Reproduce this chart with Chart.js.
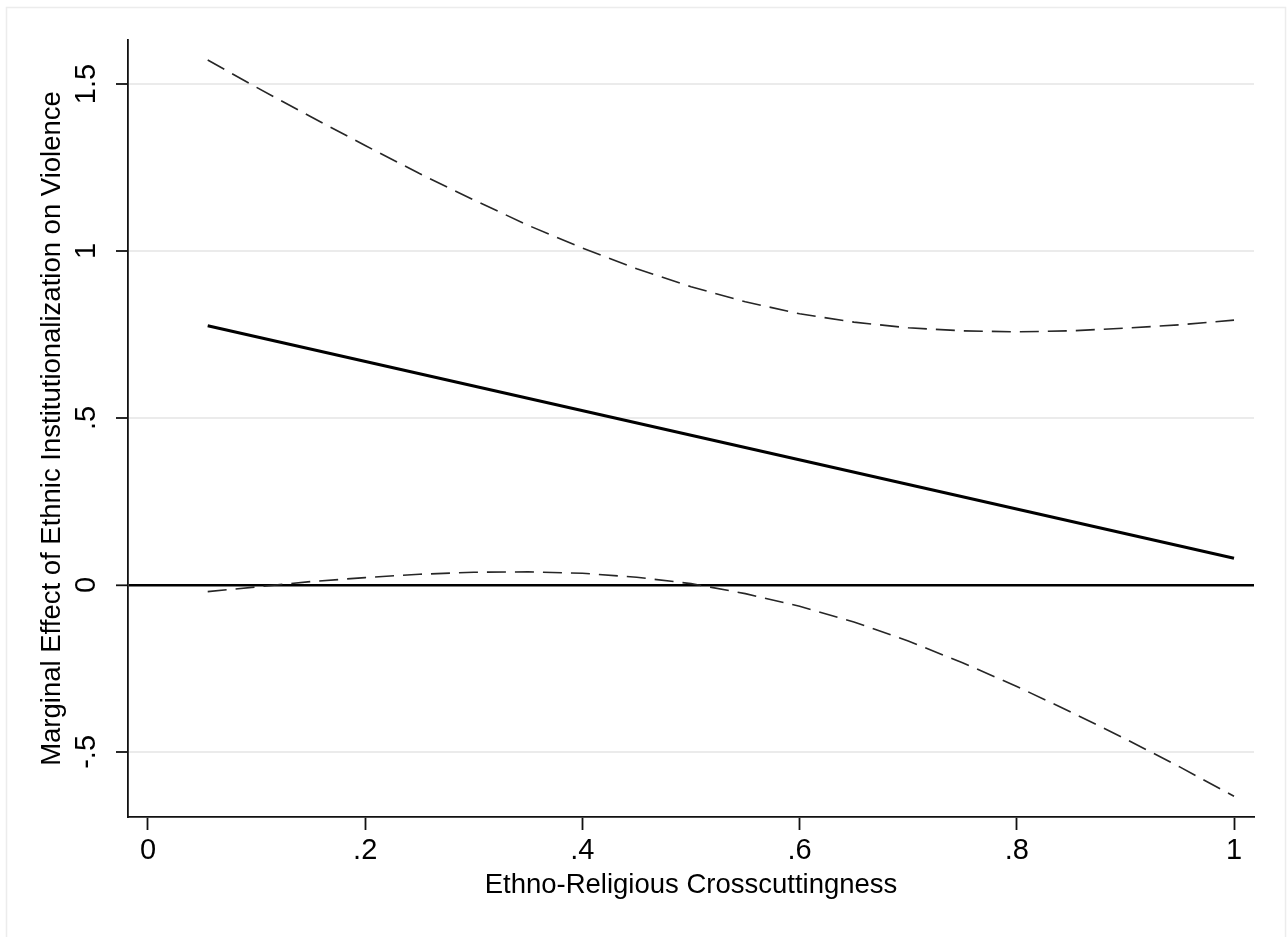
<!DOCTYPE html>
<html>
<head>
<meta charset="utf-8">
<title>Marginal Effect of Ethnic Institutionalization on Violence</title>
<script src="https://cdn.jsdelivr.net/npm/chart.js@4.4.0/dist/chart.umd.min.js"></script>
<style>
  html, body { margin: 0; padding: 0; background: #fff; }
  #chart { display: block; }
</style>
</head>
<body>
<canvas id="chart" width="1287" height="937"></canvas>
<script>
// values
const crosscut = [0.055, 0.1, 0.15, 0.2, 0.25, 0.3, 0.35, 0.4, 0.45, 0.5,
                  0.55, 0.6, 0.65, 0.7, 0.75, 0.8, 0.85, 0.9, 0.95, 1.0];
const upperBound = [1.572, 1.490, 1.402, 1.316, 1.232, 1.153, 1.077, 1.009, 0.947, 0.893,
                    0.848, 0.812, 0.787, 0.770, 0.761, 0.758, 0.761, 0.769, 0.779, 0.793];
const lowerBound = [-0.020, -0.006, 0.010, 0.022, 0.032, 0.038, 0.039, 0.035, 0.023, 0.004,
                    -0.026, -0.064, -0.111, -0.168, -0.233, -0.304, -0.381, -0.461, -0.545, -0.633];
const effectX = [0.055, 1.0];
const effectY = [0.776, 0.080];

const xTickValues = [0, 0.2, 0.4, 0.6, 0.8, 1];
const yTickValues = [-0.5, 0, 0.5, 1, 1.5];

const FONT = "'Liberation Sans', Arial, Helvetica, sans-serif";

// Stata style labels: drop the leading zero
function stataLabel(v) {
  const s = String(Math.round(v * 100) / 100);
  return s.replace(/^0\./, '.').replace(/^-0\./, '-.');
}

const toPoints = (xs, ys) => xs.map((x, i) => ({ x: x, y: ys[i] }));

// light outer frame around the whole graph
const outerFrame = {
  id: 'outerFrame',
  beforeDraw(chart) {
    const ctx = chart.ctx;
    ctx.save();
    ctx.fillStyle = '#fff';
    ctx.fillRect(0, 0, chart.width, chart.height);
    ctx.strokeStyle = '#ececec';
    ctx.lineWidth = 1.5;
    ctx.strokeRect(6.5, 7.5, 1279, 980);
    ctx.restore();
  }
};

new Chart(document.getElementById('chart'), {
  type: 'line',
  data: {
    datasets: [
      {
        label: 'Upper bound',
        data: toPoints(crosscut, upperBound),
        borderColor: '#262626',
        borderWidth: 1.6,
        borderDash: [19, 9],
        pointRadius: 0,
        fill: false
      },
      {
        label: 'Lower bound',
        data: toPoints(crosscut, lowerBound),
        borderColor: '#262626',
        borderWidth: 1.6,
        borderDash: [19, 9],
        pointRadius: 0,
        fill: false
      },
      {
        label: 'Marginal effect',
        data: toPoints(effectX, effectY),
        borderColor: '#000',
        borderWidth: 3,
        pointRadius: 0,
        fill: false
      }
    ]
  },
  options: {
    responsive: false,
    animation: false,
    layout: {
      padding: { top: 40, right: 33, left: 0, bottom: 0 }
    },
    scales: {
      x: {
        type: 'linear',
        min: -0.0184,
        max: 1.0184,
        afterBuildTicks: scale => { scale.ticks = xTickValues.map(v => ({ value: v })); },
        afterFit: scale => { scale.height = 120; },
        border: { display: true, color: '#111', width: 1.8 },
        grid: {
          drawOnChartArea: false,
          drawTicks: true,
          tickLength: 13,
          tickColor: '#111',
          tickWidth: 1.8
        },
        ticks: {
          color: '#000',
          padding: 4,
          maxRotation: 0,
          font: { family: FONT, size: 29 },
          callback: v => stataLabel(v)
        },
        title: {
          display: true,
          text: 'Ethno-Religious Crosscuttingness',
          color: '#000',
          font: { family: FONT, size: 27.5 },
          padding: { top: 0, bottom: 35 }
        }
      },
      y: {
        type: 'linear',
        min: -0.695,
        max: 1.632,
        afterBuildTicks: scale => { scale.ticks = yTickValues.map(v => ({ value: v })); },
        afterFit: scale => { scale.width = 128; },
        border: { display: true, color: '#111', width: 1.8 },
        grid: {
          color: ctx => (ctx.tick && ctx.tick.value === 0) ? '#000' : '#ebebeb',
          lineWidth: ctx => (ctx.tick && ctx.tick.value === 0) ? 2.6 : 2,
          drawTicks: true,
          tickLength: 12,
          tickColor: '#111',
          tickWidth: 1.8
        },
        ticks: {
          color: '#000',
          minRotation: 90,
          maxRotation: 90,
          crossAlign: 'center',
          padding: 9,
          font: { family: FONT, size: 29 },
          callback: v => stataLabel(v)
        },
        title: {
          display: true,
          text: 'Marginal Effect of Ethnic Institutionalization on Violence',
          color: '#000',
          font: { family: FONT, size: 27.5 },
          padding: { top: 36, bottom: 0 }
        }
      }
    },
    plugins: {
      legend: { display: false },
      tooltip: { enabled: false }
    }
  },
  plugins: [outerFrame]
});
</script>
</body>
</html>
